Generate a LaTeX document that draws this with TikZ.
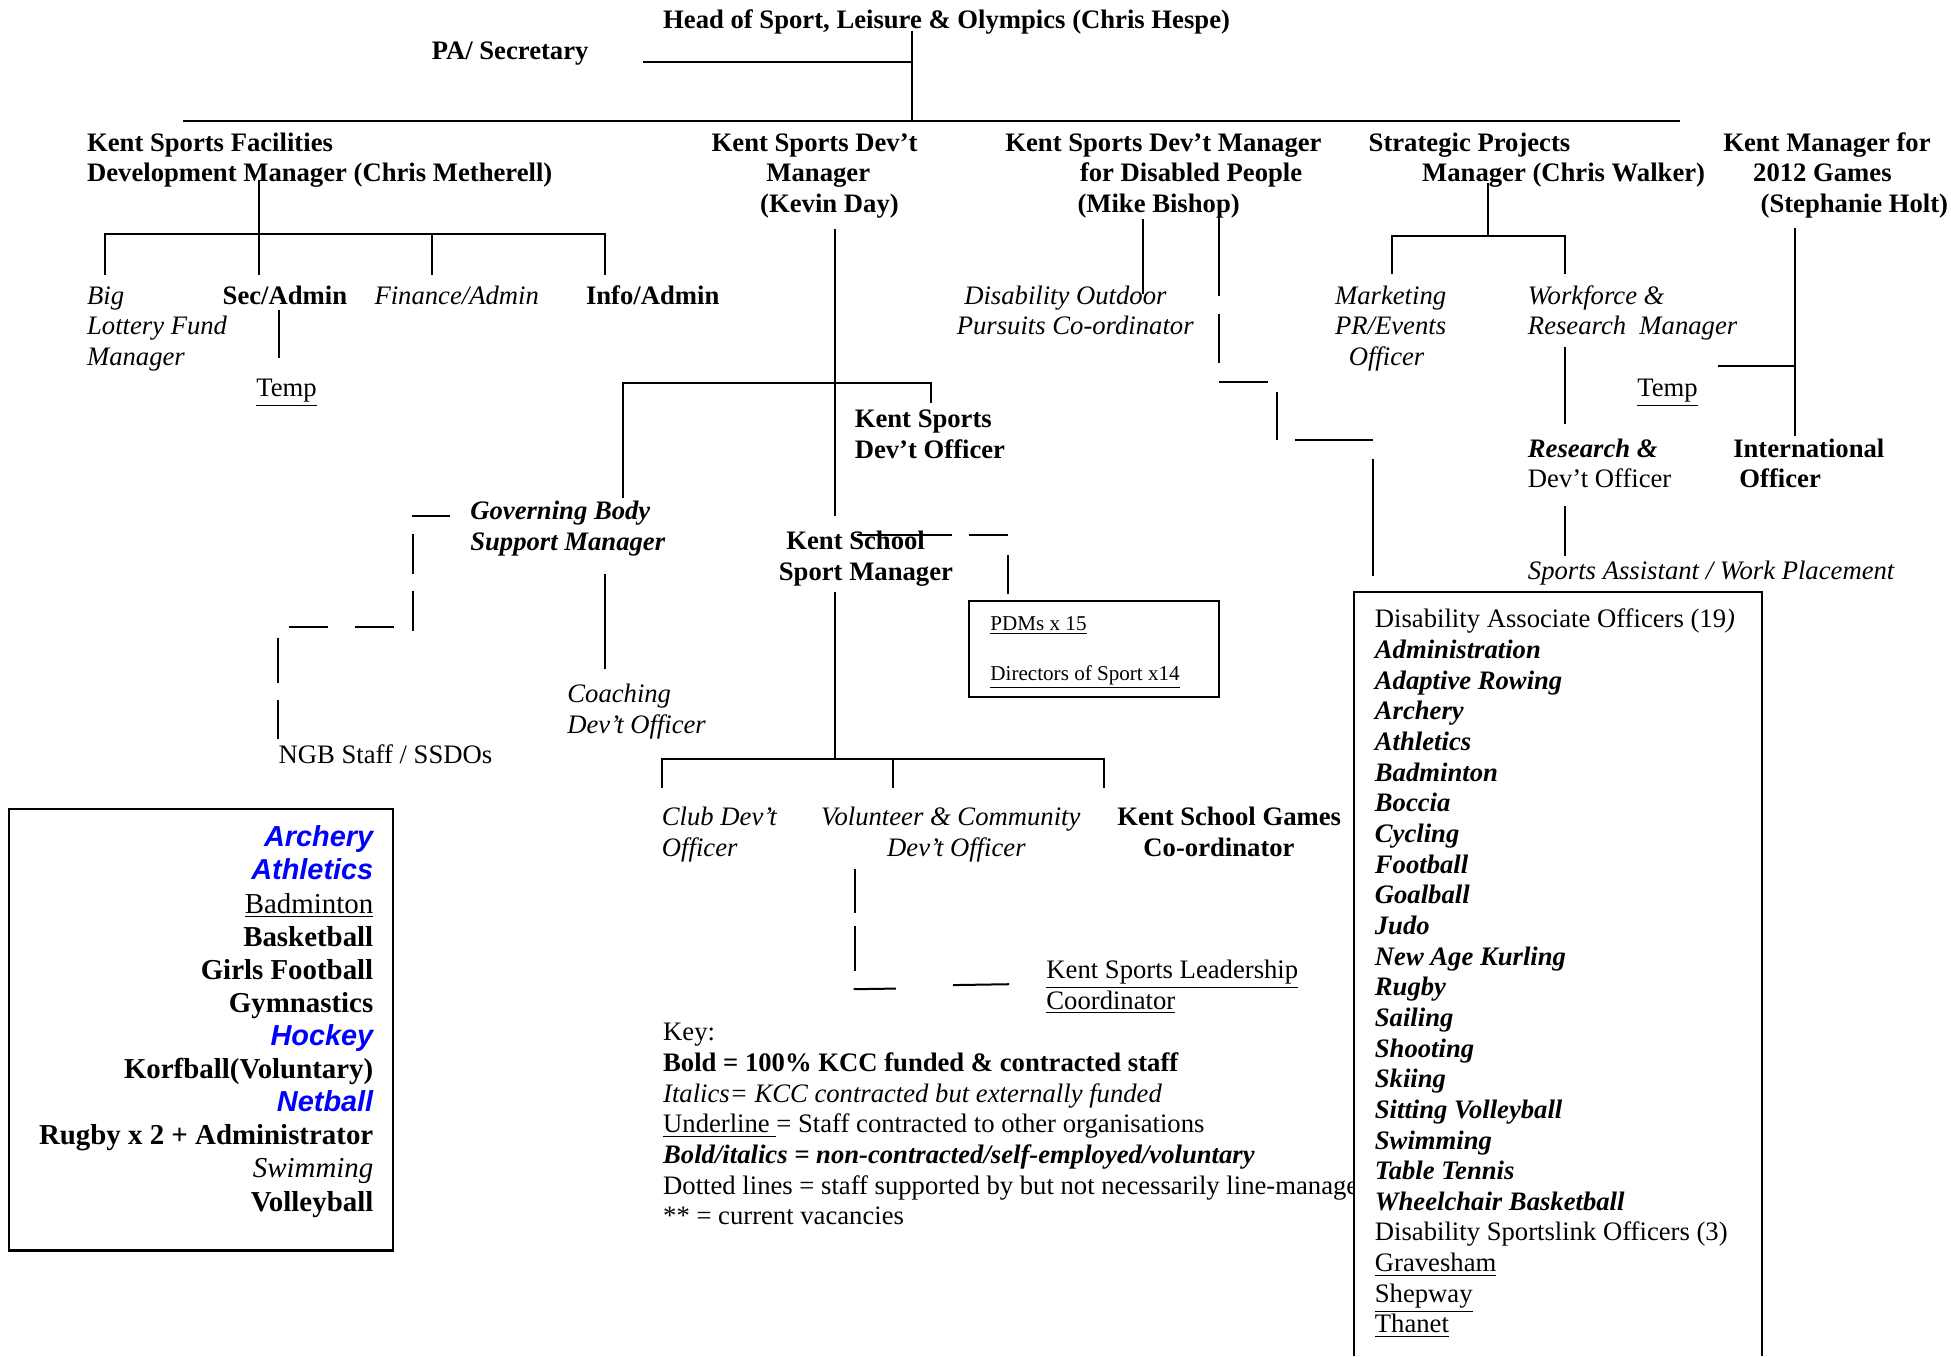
\documentclass[tikz,border=0pt]{standalone}
\usepackage{fontspec}
\setmainfont{Liberation Serif}
\newfontfamily\arialfam{Liberation Sans}
\newcommand\myind[1]{\hspace*{\dimexpr 0.56pt*#1\relax}}
\newcommand\mybi[1]{\textbf{\textit{#1}}}
\newcommand\bsans[1]{\textcolor{blue}{\arialfam\bfseries\itshape #1}}
\tikzset{
  txt/.style={inner sep=0pt, outer sep=0pt, font=\fontsize{12}{13.8}\selectfont, align=left, anchor=north west},
  smalltxt/.style={txt, font=\fontsize{9.5}{11}\selectfont},
  bigtxt/.style={inner sep=0pt, outer sep=0pt, font=\fontsize{13}{14.9}\selectfont, align=right, anchor=north east},
  conn/.style={line width=0.9pt},
  dconn/.style={line width=0.9pt},
  framebox/.style={line width=1pt},
}
\begin{document}
\begin{tikzpicture}[x=0.56pt,y=-0.56pt]
\useasboundingbox (0,0) rectangle (1568,1090);

% ---------- top ----------
\node[txt, font=\fontsize{12}{13.8}\selectfont\bfseries] (head) at (533,5.25) {\strut Head of Sport, Leisure \& Olympics (Chris Hespe)};
\node[txt, font=\fontsize{12}{13.8}\selectfont\bfseries] (pa) at (347,30.25) {\strut PA/ Secretary};

% ---------- managers ----------
\node[txt, font=\fontsize{12}{13.8}\selectfont\bfseries] (fac) at (70,104.25) {\strut Kent Sports Facilities\\Development Manager (Chris Metherell)};
\node[txt, font=\fontsize{12}{13.8}\selectfont\bfseries] (kev) at (572,104.25) {\strut Kent Sports Dev’t\\\myind{44}Manager\\\myind{39}(Kevin Day)};
\node[txt, font=\fontsize{12}{13.8}\selectfont\bfseries] (dis) at (808,104.25) {\strut Kent Sports Dev’t Manager\\\myind{60}for Disabled People\\\myind{58}(Mike Bishop)};
\node[txt, font=\fontsize{12}{13.8}\selectfont\bfseries] (strat) at (1100,104.25) {\strut Strategic Projects\\\myind{43}Manager (Chris Walker)};
\node[txt, font=\fontsize{12}{13.8}\selectfont\bfseries] (g12) at (1385,104.25) {\strut Kent Manager for\\\myind{24}2012 Games\\\myind{30}(Stephanie Holt)};

% ---------- second row ----------
\node[txt, font=\fontsize{12}{13.8}\selectfont\itshape] (big) at (70,227.25) {\strut Big\\Lottery Fund\\Manager};
\node[txt, font=\fontsize{12}{13.8}\selectfont\bfseries] (sec) at (179,227.25) {\strut Sec/Admin};
\node[txt, font=\fontsize{12}{13.8}\selectfont\itshape] (fin) at (301,227.25) {\strut Finance/Admin};
\node[txt, font=\fontsize{12}{13.8}\selectfont\bfseries] (info) at (471,227.25) {\strut Info/Admin};
\node[txt, font=\fontsize{12}{13.8}\selectfont\itshape] (dop) at (769,227.25) {\strut\myind{6}Disability Outdoor\\Pursuits Co-ordinator};
\node[txt, font=\fontsize{12}{13.8}\selectfont\itshape] (mkt) at (1073,227.25) {\strut Marketing\\PR/Events\\\myind{11}Officer};
\node[txt, font=\fontsize{12}{13.8}\selectfont\itshape] (wf) at (1228,227.25) {\strut Workforce \&\\Research\ \ Manager};

\node[txt] (tmpa) at (206,301.25) {\strut\underline{Temp}};
\node[txt] (tmpb) at (1316,301.25) {\strut\underline{Temp}};

\node[txt, font=\fontsize{12}{13.8}\selectfont\bfseries] (ksdo) at (687,326.25) {\strut Kent Sports\\Dev’t Officer};
\node[txt] (res) at (1228,350.25) {\strut\mybi{Research \&}\\Dev’t Officer};
\node[txt, font=\fontsize{12}{13.8}\selectfont\bfseries] (intl) at (1393,350.25) {\strut International\\\myind{5}Officer};
\node[txt, font=\fontsize{12}{13.8}\selectfont\bfseries\itshape] (gov) at (378,400.25) {\strut Governing Body\\Support Manager};
\node[txt, font=\fontsize{12}{13.8}\selectfont\bfseries] (kss) at (626,424.25) {\strut\myind{6}Kent School\\Sport Manager};
\node[txt, font=\fontsize{12}{13.8}\selectfont\itshape] (spa) at (1228,448.25) {\strut Sports Assistant / Work Placement};

% PDM box
\draw[framebox] (779,483) rectangle (980,560);
\node[smalltxt] (pdm) at (796,493) {\strut\underline{PDMs x 15}};
\node[smalltxt] (dos) at (796,533) {\strut\underline{Directors of Sport x14}};

\node[txt, font=\fontsize{12}{13.8}\selectfont\itshape] (coach) at (456,547.25) {\strut Coaching\\Dev’t Officer};
\node[txt] (ngb) at (224,596.25) {\strut NGB Staff / SSDOs};

\node[txt, font=\fontsize{12}{13.8}\selectfont\itshape] (club) at (532,646.25) {\strut Club Dev’t\\Officer};
\node[txt, font=\fontsize{12}{13.8}\selectfont\itshape] (vol) at (660,646.25) {\strut Volunteer \& Community\\\myind{53}Dev’t Officer};
\node[txt, font=\fontsize{12}{13.8}\selectfont\bfseries] (ksg) at (898,646.25) {\strut Kent School Games\\\myind{21}Co-ordinator};
\node[txt] (lead) at (841,769.25) {\strut\underline{Kent Sports Leadership}\\\underline{Coordinator}};

% Key
\node[txt] (key) at (533,819.25) {\strut Key:\\
\textbf{Bold = 100\% KCC funded \& contracted staff}\\
\textit{Italics= KCC contracted but externally funded}\\
\underline{Underline\ }= Staff contracted to other organisations\\
\mybi{Bold/italics = non-contracted/self-employed/voluntary}\\
Dotted lines = staff supported by but not necessarily line-managed\\
** = current vacancies};

% Sports list box
\draw[framebox] (7,650) rectangle (316,1005);
\node[bigtxt] (sports) at (300,662) {\strut\bsans{Archery}\\
\bsans{Athletics}\\
\underline{Badminton}\\
\textbf{Basketball}\\
\textbf{Girls Football}\\
\textbf{Gymnastics}\\
\bsans{Hockey}\\
\textbf{Korfball(Voluntary)}\\
\bsans{Netball}\\
\textbf{Rugby x 2 + Administrator}\\
\textit{Swimming}\\
\textbf{Volleyball}};

% Disability Associate Officers box
\fill[white] (1088,476) rectangle (1416,1090);
\draw[framebox] (1088,1090) -- (1088,476) -- (1416,476) -- (1416,1090);
\node[txt] (dao) at (1105,487.25) {\strut Disability Associate Officers (19\textit{)}\\
\mybi{Administration}\\
\mybi{Adaptive Rowing}\\
\mybi{Archery}\\
\mybi{Athletics}\\
\mybi{Badminton}\\
\mybi{Boccia}\\
\mybi{Cycling}\\
\mybi{Football}\\
\mybi{Goalball}\\
\mybi{Judo}\\
\mybi{New Age Kurling}\\
\mybi{Rugby}\\
\mybi{Sailing}\\
\mybi{Shooting}\\
\mybi{Skiing}\\
\mybi{Sitting Volleyball}\\
\mybi{Swimming}\\
\mybi{Table Tennis}\\
\mybi{Wheelchair Basketball}\\
Disability Sportslink Officers (3)\\
\underline{Gravesham}\\
\underline{Shepway}\\
\underline{Thanet}};

% ---------- connectors ----------
% head
\coordinate (hd) at (733,25);
\coordinate (barj) at (733,97);
\coordinate (paend) at (517,50);
\coordinate (paj) at (733,50);
\coordinate (barl) at (147,97);
\coordinate (barr) at (1350,97);
\draw[conn] (hd) -- (barj);
\draw[conn] (paend) -- (paj);
\draw[conn] (barl) -- (barr);

% facilities
\coordinate (facd) at (208,145);
\draw[conn] (facd) -- (208,221);
\draw[conn] (84,221) -- (84,188) -- (486,188) -- (486,221);
\draw[conn] (347,188) -- (347,221);
\draw[conn] (224,249) -- (224,288);

% Kevin Day
\coordinate (kevd) at (671,184);
\draw[conn] (kevd) -- (671,415);
\draw[conn] (501,400) -- (501,308) -- (748,308) -- (748,324);
% Kent School -> PDM (dashed)
\draw[dconn] (689,430) -- (765,430);
\draw[dconn] (779,430) -- (810,430);
\draw[dconn] (810,446) -- (810,477);
% Kent School down
\draw[conn] (671,476) -- (671,610);
\draw[conn] (532,633) -- (532,610) -- (887,610) -- (887,633);
\draw[conn] (718,610) -- (718,633);
% volunteer -> leadership (dashed)
\draw[dconn] (687,698) -- (687,733.5);
\draw[dconn] (687,744) -- (687,780);
\draw[dconn] (686,795) -- (720,794.5);
\draw[dconn] (766,791.7) -- (811,791);

% governing body
\draw[dconn] (331,415) -- (362,415);
\draw[dconn] (332,429) -- (332,461);
\draw[dconn] (332,475) -- (332,507);
\draw[dconn] (232,504) -- (264,504);
\draw[dconn] (285,504) -- (317,504);
\draw[dconn] (223.5,512.5) -- (223.5,549);
\draw[dconn] (223.5,562.5) -- (223.5,594);
\draw[conn] (486,461.5) -- (486,538);

% disabled people
\draw[conn] (919,176) -- (919,236);
\draw[dconn] (980,166) -- (980,238);
\draw[dconn] (980,252) -- (980,292);
\draw[dconn] (980,306.7) -- (1019,306.7);
\draw[dconn] (1026,315) -- (1026,354);
\draw[dconn] (1041,353.6) -- (1103.5,353.6);
\draw[dconn] (1103.5,369) -- (1103.5,463);

% strategic
\draw[conn] (1196,147) -- (1196,190);
\draw[conn] (1118.5,220) -- (1118.5,190) -- (1258,190) -- (1258,220);
\draw[conn] (1258,279) -- (1258,341);
\draw[conn] (1258,407) -- (1258,447);

% 2012
\draw[conn] (1443,183) -- (1443,350);
\draw[conn] (1381,294) -- (1443,294);
\end{tikzpicture}
\end{document}
